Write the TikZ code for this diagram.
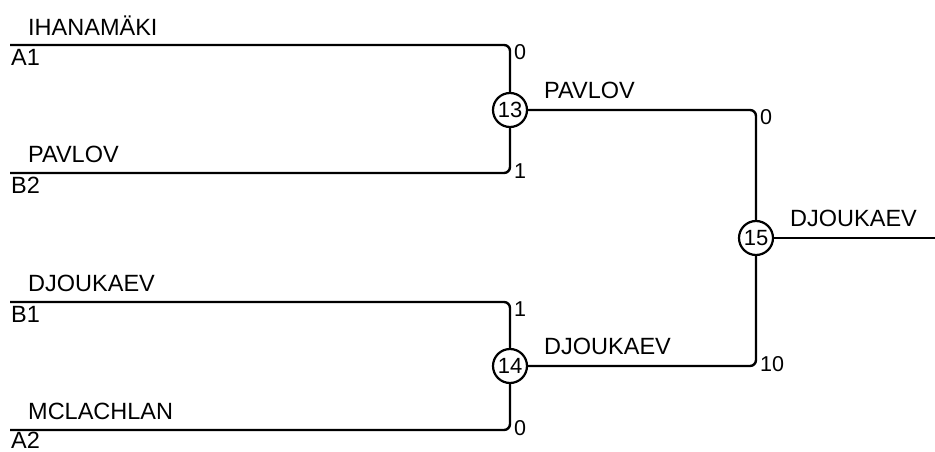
\documentclass[tikz,border=0pt]{standalone}
\usepackage{fontspec}
\setmainfont{Liberation Sans}
\begin{document}
\begin{tikzpicture}[x=1pt,y=-1pt,
  bline/.style={line width=2.4pt, rounded corners=6pt},
  score/.style={circle, draw, line width=2.2pt, minimum size=34pt, inner sep=0pt, font=\fontsize{22}{25}\selectfont},
  lbl/.style={anchor=west, inner sep=0pt, font=\fontsize{23.5}{27}\selectfont},
  num/.style={anchor=west, inner sep=0pt, font=\fontsize{21.5}{24}\selectfont}]
\useasboundingbox (0,0) rectangle (935,452);
% coordinates
\coordinate (A1s) at (10,45);
\coordinate (B2s) at (10,173);
\coordinate (B1s) at (10,302);
\coordinate (A2s) at (10,430);
\coordinate (endR) at (935,238);
% score circles
\node[score] (c13) at (510,110) {13};
\node[score] (c14) at (510,366) {14};
\node[score] (c15) at (756,238) {15};
% connectors
\draw[bline] (A1s) -| (c13.north);
\draw[bline] (B2s) -| (c13.south);
\draw[bline] (B1s) -| (c14.north);
\draw[bline] (A2s) -| (c14.south);
\draw[bline] (c13.east) -| (c15.north);
\draw[bline] (c14.east) -| (c15.south);
\draw[bline] (c15.east) -- (endR);
% player names
\node[lbl] (n1) at (28,26) {IHANAMÄKI};
\node[lbl] (s1) at (11,57) {A1};
\node[lbl] (n2) at (28,154) {PAVLOV};
\node[lbl] (s2) at (11,185) {B2};
\node[lbl] (n3) at (28,283) {DJOUKAEV};
\node[lbl] (s3) at (11,314) {B1};
\node[lbl] (n4) at (28,411) {MCLACHLAN};
\node[lbl] (s4) at (11,440) {A2};
% winners
\node[lbl] (w13) at (544,90) {PAVLOV};
\node[lbl] (w14) at (544,346) {DJOUKAEV};
\node[lbl] (w15) at (790,218) {DJOUKAEV};
% scores
\node[num] (g1) at (514,52) {0};
\node[num] (g2) at (514,171) {1};
\node[num] (g3) at (514,309) {1};
\node[num] (g4) at (514,428) {0};
\node[num] (g5) at (760,117) {0};
\node[num] (g6) at (760,364) {10};
\end{tikzpicture}
\end{document}
